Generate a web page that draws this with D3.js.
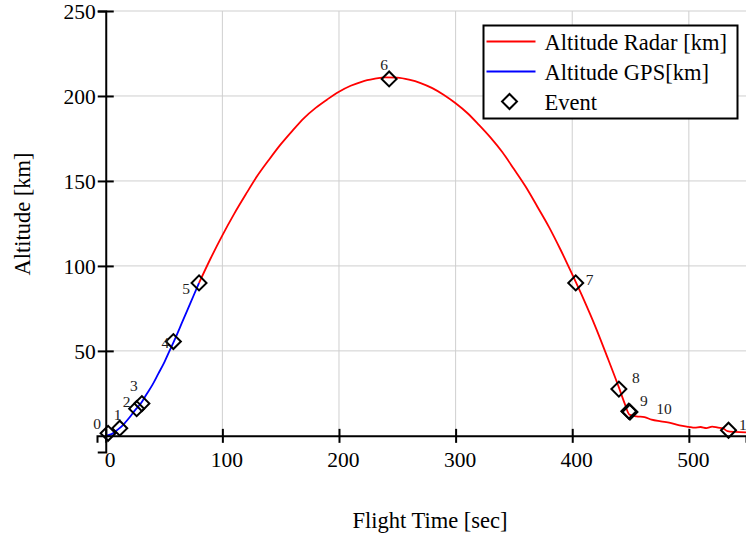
<!DOCTYPE html>
<html>
<head>
<meta charset="utf-8">
<script src="https://cdn.jsdelivr.net/npm/d3@7"></script>
<style>
  body { margin: 0; background: #fff; }
  svg { display: block; font-family: "Liberation Serif", "Times New Roman", serif; }
</style>
</head>
<body>
<div id="chart"></div>
<script>
// GPS altitude (blue), seconds / km
const gpsTime = [0, 5, 10, 15, 20, 25, 30, 35, 40, 45, 50, 55, 60, 65, 70, 75, 80];
const gpsAlt = [0, 1, 3.5, 6.5, 10.5, 15, 19, 24.5, 30, 36.5, 43, 50.5, 58, 66, 74, 82, 90];

// Radar altitude (red)
const radarTime = [80, 90, 100, 110, 120, 130, 140, 150, 160, 170, 180, 190, 200, 210, 220, 230, 240,
    250, 260, 270, 280, 290, 300, 310, 320, 330, 340, 350, 360, 370, 380, 390, 400, 410, 420, 430, 440,
    445, 449, 455, 462, 468, 476, 484, 492, 500, 505, 510, 515, 520, 525, 529, 533, 540, 549];
const radarAlt = [90, 104.5, 118, 130.5, 142, 153, 162.5, 171.5, 179.5, 187, 193, 198, 202.5, 206, 208.5, 210, 211,
    210.8, 209.6, 207.6, 204.6, 200.6, 195.7, 190, 183, 175.5, 167, 157, 146.7, 135, 123, 109.5, 95, 80, 64, 46.5, 28.5,
    19, 12.5, 11.5, 11, 9.5, 8.5, 7.6, 6.2, 5.3, 4.8, 5.2, 4.6, 5.4, 4.8, 4.5, 2.8, 2.3, 2];

// Events
const eventTime = [2, 12, 26.5, 31, 58, 80, 243, 403, 440, 448.5, 449.5, 534];
const eventAlt = [1.5, 4.5, 16, 19, 55.5, 90, 210, 90, 27.5, 14.5, 14, 3.3];
const eventLabel = ["0", "1", "2", "3", "4", "5", "6", "7", "8", "9", "10", "11"];

const xTicks = [0, 100, 200, 300, 400, 500];
const yTicks = [50, 100, 150, 200, 250];

const legendLabels = ["Altitude Radar [km]", "Altitude GPS[km]", "Event"];

// label offsets in px (layout only)
const labelOffsets = [[-11, -4], [-2, -8], [-10, -2], [-8, -13], [-8, 6], [-13, 11],
    [-5, -9], [14, 2], [17, -6], [15, -5], [34, 2], [18, 0]];

const W = 746, H = 533;

const svg = d3.select("#chart")
    .append("svg")
    .attr("width", W)
    .attr("height", H);

const x = d3.scaleLinear().domain([-7.5, 549]).range([97, 746]);
const y = d3.scaleLinear().domain([-9.5, 250]).range([452, 11]);

// grid
svg.append("g")
    .selectAll("line")
    .data(xTicks.filter(d => d > 0))
    .join("line")
    .attr("x1", d => x(d)).attr("x2", d => x(d))
    .attr("y1", y(250)).attr("y2", y(0))
    .attr("stroke", "#cfcfcf").attr("stroke-width", 1);

svg.append("g")
    .selectAll("line")
    .data(yTicks)
    .join("line")
    .attr("x1", x(0)).attr("x2", W)
    .attr("y1", d => y(d)).attr("y2", d => y(d))
    .attr("stroke", "#cfcfcf").attr("stroke-width", 1);

// lines
const gpsData = gpsTime.map((t, i) => ({ t, a: gpsAlt[i] }));
const radarData = radarTime.map((t, i) => ({ t, a: radarAlt[i] }));

const line = d3.line()
    .x(d => x(d.t))
    .y(d => y(d.a))
    .curve(d3.curveMonotoneX);

svg.append("path")
    .datum(gpsData)
    .attr("fill", "none")
    .attr("stroke", "#0000ff")
    .attr("stroke-width", 1.8)
    .attr("d", line);

svg.append("path")
    .datum(radarData)
    .attr("fill", "none")
    .attr("stroke", "#ff0000")
    .attr("stroke-width", 1.8)
    .attr("d", line);

// axes
const xAxis = svg.append("g")
    .attr("transform", `translate(0,${y(0)})`)
    .call(d3.axisBottom(x).tickValues(xTicks).tickSizeOuter(0).tickSize(7).tickPadding(0));
xAxis.select(".domain").attr("stroke-width", 2);
xAxis.selectAll(".tick line").attr("y1", -7).attr("y2", 7).attr("stroke-width", 2);
xAxis.selectAll(".tick text")
    .attr("font-family", "Liberation Serif")
    .attr("font-size", 21.5)
    .attr("fill", "#000")
    .attr("dx", 4)
    .attr("y", 31)
    .attr("dy", 0);

const yAxis = svg.append("g")
    .attr("transform", `translate(${x(0)},0)`)
    .call(d3.axisLeft(y).tickValues(yTicks).tickSizeOuter(0).tickSize(8).tickPadding(3));
yAxis.select(".domain").attr("stroke-width", 2);
yAxis.selectAll(".tick line").attr("x1", -8).attr("x2", 8).attr("stroke-width", 2);
yAxis.selectAll(".tick text")
    .attr("font-family", "Liberation Serif")
    .attr("font-size", 21.5)
    .attr("fill", "#000")
    .attr("x", -10)
    .attr("dy", "0.36em");

// axis titles
svg.append("text")
    .attr("x", 430)
    .attr("y", 528)
    .attr("text-anchor", "middle")
    .attr("font-size", 22.5)
    .text("Flight Time [sec]");

svg.append("text")
    .attr("transform", "translate(30,214) rotate(-90)")
    .attr("text-anchor", "middle")
    .attr("font-size", 22.5)
    .text("Altitude [km]");

// events
const diamond = d3.symbol().type(d3.symbolSquare).size(112);
const events = eventTime.map((t, i) => ({ t, a: eventAlt[i], label: eventLabel[i], off: labelOffsets[i] }));

svg.append("g")
    .selectAll("path")
    .data(events)
    .join("path")
    .attr("d", diamond)
    .attr("transform", d => `translate(${x(d.t)},${y(d.a)}) rotate(45)`)
    .attr("fill", "none")
    .attr("stroke", "#000")
    .attr("stroke-width", 2);

svg.append("g")
    .selectAll("text")
    .data(events)
    .join("text")
    .attr("x", d => x(d.t) + d.off[0])
    .attr("y", d => y(d.a) + d.off[1])
    .attr("text-anchor", "middle")
    .attr("font-size", 15.5)
    .attr("fill", "#222")
    .text(d => d.label);

// legend
const legend = svg.append("g").attr("transform", "translate(483.5,25.5)");
legend.append("rect")
    .attr("width", 254)
    .attr("height", 93)
    .attr("fill", "#fff")
    .attr("stroke", "#000")
    .attr("stroke-width", 2);

const legendColors = ["#ff0000", "#0000ff"];
legendColors.forEach((c, i) => {
    legend.append("line")
        .attr("x1", 3).attr("x2", 52)
        .attr("y1", 16 + i * 30).attr("y2", 16 + i * 30)
        .attr("stroke", c)
        .attr("stroke-width", 1.8);
});
legend.append("path")
    .attr("d", diamond)
    .attr("transform", "translate(26,76) rotate(45)")
    .attr("fill", "none")
    .attr("stroke", "#000")
    .attr("stroke-width", 2);

legend.selectAll(".ltext")
    .data(legendLabels)
    .join("text")
    .attr("class", "ltext")
    .attr("x", 61)
    .attr("y", (d, i) => 24 + i * 30)
    .attr("font-size", 22.5)
    .text(d => d);
</script>
</body>
</html>
